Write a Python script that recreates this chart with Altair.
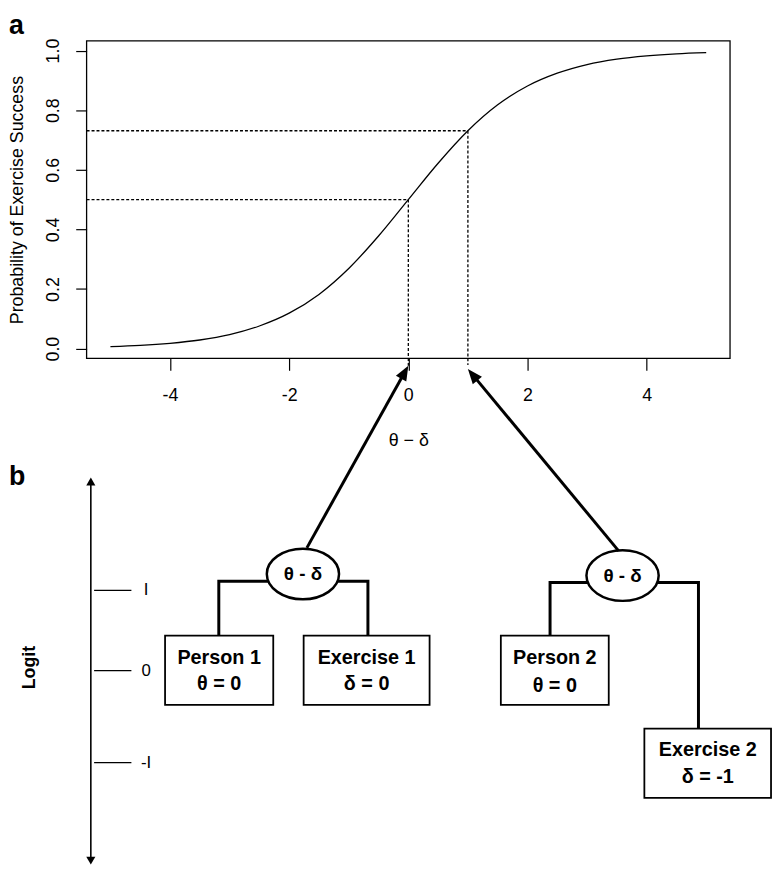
import math
import altair as alt
import pandas as pd

FONT = "Liberation Sans"

# ---------------- data: panel a ----------------
curve_x = [-5, -4.5, -4, -3.5, -3, -2.5, -2, -1.5, -1, -0.5, 0,
           0.5, 1, 1.5, 2, 2.5, 3, 3.5, 4, 4.5, 5]
curve_p = [0.007, 0.011, 0.018, 0.029, 0.047, 0.076, 0.119, 0.182, 0.269, 0.378, 0.5,
           0.622, 0.731, 0.818, 0.881, 0.924, 0.953, 0.971, 0.982, 0.989, 0.993]

guide_x = [-5.4, 0, -5.4, 1]
guide_x2 = [0, 0, 1, 1]
guide_y = [0.5, 0.5, 0.731, 0.731]
guide_y2 = [0.5, -0.06, 0.731, -0.055]

frame_x = [-5.4]
frame_x2 = [5.4]
frame_y = [-0.0328]
frame_y2 = [1.0328]

x_ticks = [-4, -2, 0, 2, 4]
y_ticks = [0.0, 0.2, 0.4, 0.6, 0.8, 1.0]

# ---------------- data: panel b (diagram) ----------------
box_names = ["Person 1", "Exercise 1", "Person 2", "Exercise 2"]
box_params = ["θ = 0", "δ = 0", "θ = 0", "δ = -1"]
box_x0 = [-4.083, -1.757, 1.553, 3.962]
box_x1 = [-2.267, 0.357, 3.364, 6.088]
box_top = [-0.9628, -0.9628, -0.9628, -1.2749]
box_bottom = [-1.1952, -1.1952, -1.1952, -1.5073]
name_y = [-1.0369, -1.0369, -1.0369, -1.3466]
param_y = [-1.1255, -1.1255, -1.1308, -1.4376]

ell_x = [-1.769, 3.596]
ell_y = [-0.7560, -0.7613]
ell_label = ["θ - δ", "θ - δ"]

conn_id = [0, 0, 0, 1, 1, 1, 2, 2, 2, 3, 3, 3]
conn_x = [-1.769, -3.181, -3.181, -1.769, -0.678, -0.678,
          3.596, 2.379, 2.379, 3.596, 4.870, 4.870]
conn_y = [-0.7802, -0.7802, -0.9628, -0.7802, -0.7802, -0.9628,
          -0.7845, -0.7845, -0.9628, -0.7845, -0.7845, -1.2749]

arrow_tail_x = [-1.703, 3.530]
arrow_tail_y = [-0.6683, -0.6783]
arrow_tip_x = [0, 1]
arrow_tip_y = [-0.0574, -0.0684]

logit_x = [-5.329]
logit_top = [-0.4326]
logit_bottom = [-1.7308]
logit_tick_x0 = [-5.274]
logit_tick_x1 = [-4.648]
logit_tick_y = [-0.8111, -1.0800, -1.3888]
logit_tick_labels = ["I", "0", "-I"]
logit_label_x = [-4.402]
logit_title = ["Logit"]
logit_title_pos = [(-6.354, -1.0700)]

panel_labels = ["a", "b"]
panel_x = [-6.703, -6.703]
panel_y = [1.0549, -0.4558]

# ---------------- geometry of the canvas ----------------
W, H = 774, 862
PX_X, PX_Y = 60.2, 301.2        # pixels per unit
X0_PX, Y0_PX = 404.5, 339.7     # pixel of x=0, p=0
x_dom = [-X0_PX / PX_X, (W - X0_PX) / PX_X]
y_dom = [(Y0_PX - H) / PX_Y, Y0_PX / PX_Y]
xs = alt.Scale(domain=x_dom, nice=False, zero=False)
ys = alt.Scale(domain=y_dom, nice=False, zero=False)

box_bottom_px = Y0_PX - frame_y[0] * PX_Y
box_left_px = X0_PX + frame_x[0] * PX_X

AX = alt.Axis(
    values=x_ticks, title="θ − δ", grid=False, domain=False,
    tickSize=12, tickWidth=1.2, tickColor="black",
    labelFont=FONT, labelFontSize=18, labelColor="black", labelPadding=17,
    labelExpr="'' + datum.value", labelFlush=False, labelOverlap=False,
    offset=box_bottom_px - H,
    titleFont=FONT, titleFontSize=18, titleFontWeight="normal", titleColor="black",
    titleX=X0_PX, titleY=88, titleBaseline="alphabetic", titleAlign="center")
AY = alt.Axis(
    values=y_ticks, format=".1f", title="Probability of Exercise Success",
    grid=False, domain=False, tickSize=11, tickWidth=1.2, tickColor="black",
    labelFont=FONT, labelFontSize=18, labelColor="black", labelPadding=17,
    labelAngle=270, labelAlign="center", labelBaseline="alphabetic",
    labelFlush=False, labelOverlap=False,
    offset=-box_left_px,
    titleFont=FONT, titleFontSize=18, titleFontWeight="normal", titleColor="black",
    titleAngle=270, titleX=15 - box_left_px, titleY=Y0_PX - 0.5 * PX_Y,
    titleBaseline="alphabetic", titleAlign="center")


def X(f):
    return alt.X(f, type="quantitative", scale=xs, axis=AX)


def Y(f):
    return alt.Y(f, type="quantitative", scale=ys, axis=AY)


# ---------------- layers ----------------
frame_df = pd.DataFrame({"x": frame_x, "x2": frame_x2, "y": frame_y, "y2": frame_y2})
frame = alt.Chart(frame_df).mark_rect(fillOpacity=0, stroke="black", strokeWidth=1.3).encode(
    x=X("x"), x2="x2", y=Y("y"), y2="y2")

guides_df = pd.DataFrame({"x": guide_x, "x2": guide_x2, "y": guide_y, "y2": guide_y2})
guides = alt.Chart(guides_df).mark_rule(color="black", strokeWidth=1.3, strokeDash=[3, 2]).encode(
    x=X("x"), x2="x2", y=Y("y"), y2="y2")

curve_df = pd.DataFrame({"x": curve_x, "p": curve_p})
curve = alt.Chart(curve_df).mark_line(color="black", strokeWidth=1.3, interpolate="monotone").encode(
    x=X("x"), y=Y("p"))

# connectors
conn_df = pd.DataFrame({"id": conn_id, "x": conn_x, "y": conn_y,
                        "o": list(range(len(conn_x)))})
conns = alt.Chart(conn_df).mark_line(color="black", strokeWidth=3, strokeJoin="miter").encode(
    x=X("x"), y=Y("y"), detail="id:N", order="o:Q")

# ellipses
ELLIPSE = ("M-1,0 C-1,-0.3866 -0.5523,-0.7 0,-0.7 C0.5523,-0.7 1,-0.3866 1,0 "
           "C1,0.3866 0.5523,0.7 0,0.7 C-0.5523,0.7 -1,0.3866 -1,0 Z")
ell_df = pd.DataFrame({"x": ell_x, "y": ell_y, "t": ell_label})
ells = alt.Chart(ell_df).mark_point(shape=ELLIPSE, size=5329, filled=True, fill="white",
                                    stroke="black", strokeWidth=2.5, opacity=1).encode(
    x=X("x"), y=Y("y"))
ell_text = alt.Chart(ell_df).mark_text(font=FONT, fontSize=19, fontWeight="bold", color="black",
                                       align="center", baseline="middle").encode(
    x=X("x"), y=Y("y"), text="t:N")

# boxes
box_df = pd.DataFrame({"x0": box_x0, "x1": box_x1, "y0": box_top, "y1": box_bottom,
                       "name": box_names, "param": box_params,
                       "ny": name_y, "py": param_y})
box_df["cx"] = (box_df["x0"] + box_df["x1"]) / 2
boxes = alt.Chart(box_df).mark_rect(fill="white", stroke="black", strokeWidth=1.8).encode(
    x=X("x0"), x2="x1", y=Y("y0"), y2="y1")
names = alt.Chart(box_df).mark_text(font=FONT, fontSize=20, fontWeight="bold", color="black",
                                    align="center", baseline="middle").encode(
    x=X("cx"), y=Y("ny"), text="name:N")
params = alt.Chart(box_df).mark_text(font=FONT, fontSize=20, fontWeight="bold", color="black",
                                     align="center", baseline="middle").encode(
    x=X("cx"), y=Y("py"), text="param:N")

# arrows from ellipses to the theta-delta axis
shaft_rows, head_rows = [], []
for tx, ty, hx, hy in zip(arrow_tail_x, arrow_tail_y, arrow_tip_x, arrow_tip_y):
    dxp = (hx - tx) * PX_X
    dyp = (hy - ty) * PX_Y
    L = math.hypot(dxp, dyp)
    k = 9.0 / L
    shaft_rows.append({"x": tx, "y": ty, "x2": hx - k * (hx - tx), "y2": hy - k * (hy - ty)})
    ang = math.degrees(math.atan2(dxp, dyp)) % 360
    head_rows.append({"x": hx, "y": hy, "a": ang})
shafts = alt.Chart(pd.DataFrame(shaft_rows)).mark_rule(color="black", strokeWidth=3).encode(
    x=X("x"), x2="x2", y=Y("y"), y2="y2")
HEAD = "M0,0 L0.8,2 L-0.8,2 Z"
heads = alt.Chart(pd.DataFrame(head_rows)).mark_point(
    shape=HEAD, size=225, filled=True, color="black", opacity=1, strokeWidth=0).encode(
    x=X("x"), y=Y("y"), angle=alt.Angle("a:Q", scale=None))

# logit axis
lg_df = pd.DataFrame({"x": logit_x, "y": [logit_top[0] - 0.02], "y2": [logit_bottom[0] + 0.02]})
lg_line = alt.Chart(lg_df).mark_rule(color="black", strokeWidth=1.6).encode(
    x=X("x"), y=Y("y"), y2="y2")
lg_heads_df = pd.DataFrame({"x": logit_x * 2, "y": [logit_top[0], logit_bottom[0]], "a": [0, 180]})
LHEAD = "M0,0 L1.15,2 L-1.15,2 Z"
lg_heads = alt.Chart(lg_heads_df).mark_point(
    shape=LHEAD, size=64, filled=True, color="black", opacity=1, strokeWidth=0).encode(
    x=X("x"), y=Y("y"), angle=alt.Angle("a:Q", scale=None))
lt_df = pd.DataFrame({"x0": logit_tick_x0 * 3, "x1": logit_tick_x1 * 3, "y": logit_tick_y,
                      "lx": logit_label_x * 3, "t": logit_tick_labels})
lg_ticks = alt.Chart(lt_df).mark_rule(color="black", strokeWidth=1.3).encode(
    x=X("x0"), x2="x1", y=Y("y"))
lg_labels = alt.Chart(lt_df).mark_text(font=FONT, fontSize=17, color="black",
                                       align="center", baseline="middle").encode(
    x=X("lx"), y=Y("y"), text="t:N")
lg_title_df = pd.DataFrame({"x": [logit_title_pos[0][0]], "y": [logit_title_pos[0][1]],
                            "t": logit_title})
lg_title = alt.Chart(lg_title_df).mark_text(font=FONT, fontSize=18, fontWeight="bold",
                                            color="black", angle=270, align="center",
                                            baseline="middle").encode(
    x=X("x"), y=Y("y"), text="t:N")

# panel letters
pl_df = pd.DataFrame({"x": panel_x, "y": panel_y, "t": panel_labels})
pletters = alt.Chart(pl_df).mark_text(font=FONT, fontSize=27, fontWeight="bold", color="black",
                                      align="left", baseline="alphabetic").encode(
    x=X("x"), y=Y("y"), text="t:N")

chart = alt.layer(
    frame, guides, curve, conns, ells, ell_text, boxes, names, params,
    shafts, heads, lg_line, lg_heads, lg_ticks, lg_labels, lg_title, pletters,
).properties(
    width=W, height=H, padding=0,
    autosize=alt.AutoSizeParams(type="none"),
).configure_view(strokeWidth=0)

chart.save("out.html", embed_options={"renderer": "svg", "actions": False})
